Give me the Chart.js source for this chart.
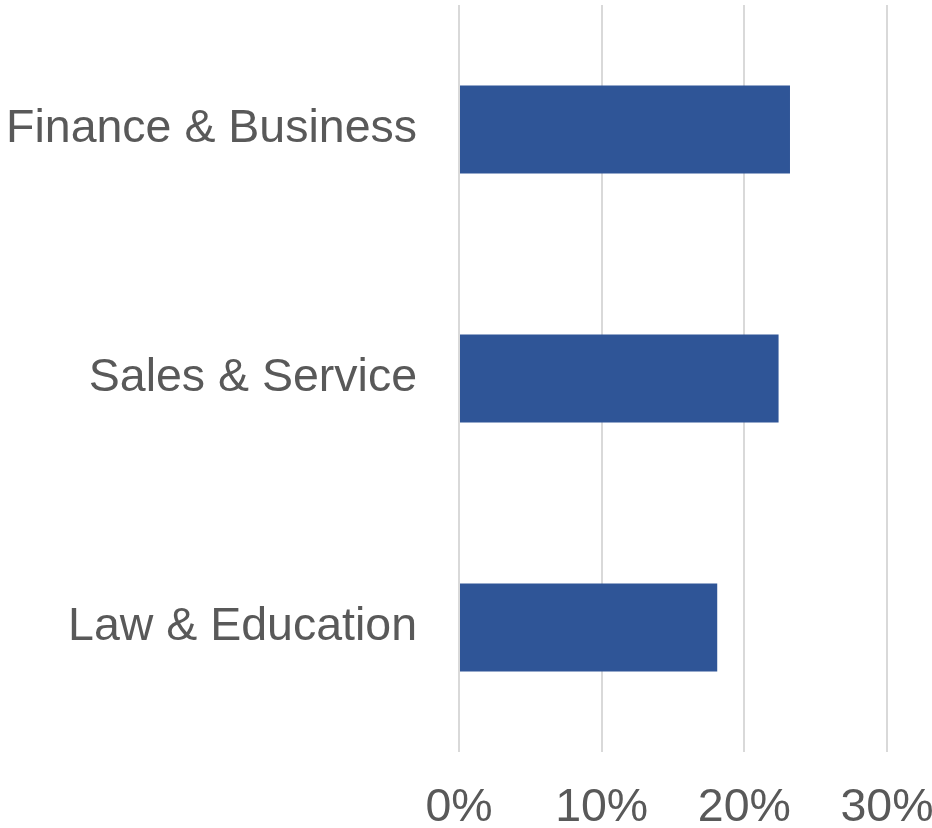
<!DOCTYPE html>
<html>
<head>
<meta charset="utf-8">
<script src="https://cdn.jsdelivr.net/npm/chart.js@4.4.0/dist/chart.umd.min.js"></script>
<style>
  html, body { margin: 0; padding: 0; background: #fff; }
  #wrap { width: 932px; height: 828px; }
</style>
</head>
<body>
<div id="wrap"><canvas id="chart" width="932" height="828"></canvas></div>
<script>
// data
const categories = ['Finance & Business', 'Sales & Service', 'Law & Education'];
const shares = [23.2, 22.4, 18.1];
const tickValues = [0, 10, 20, 30];

const textColor = '#595959';
const barColor = '#2F5597';
const gridColor = '#d9d9d9';

Chart.defaults.font.family = '"Liberation Sans", Arial, sans-serif';
Chart.defaults.font.size = 46.5;
Chart.defaults.color = textColor;

// drop the extra label padding chart.js adds around the plot
function noPadding(scale) {
    scale.paddingTop = 0;
    scale.paddingBottom = 0;
    scale.paddingLeft = 0;
    scale.paddingRight = 0;
}

const config = {
    type: 'bar',
    data: {
        labels: categories,
        datasets: [{
            data: shares,
            backgroundColor: barColor,
            borderWidth: 0,
            categoryPercentage: 1,
            barPercentage: 0.353
        }]
    },
    options: {
        indexAxis: 'y',
        responsive: false,
        animation: false,
        layout: {
            padding: { top: 5, right: 45, left: 0, bottom: 0 }
        },
        plugins: {
            legend: { display: false },
            tooltip: { enabled: false }
        },
        scales: {
            x: {
                min: tickValues[0],
                max: tickValues[tickValues.length - 1],
                afterBuildTicks: (scale) => {
                    scale.ticks = tickValues.map(v => ({ value: v }));
                },
                afterFit: (scale) => { scale.height = 76; noPadding(scale); },
                ticks: {
                    padding: 28,
                    maxRotation: 0,
                    callback: (v) => v + '%'
                },
                grid: {
                    color: gridColor,
                    lineWidth: 2,
                    drawTicks: false
                },
                border: { display: false }
            },
            y: {
                afterFit: (scale) => { scale.width = 459; noPadding(scale); },
                ticks: { padding: 42 },
                grid: { display: false, drawTicks: false },
                border: { display: false }
            }
        }
    }
};

new Chart(document.getElementById('chart'), config);
</script>
</body>
</html>
